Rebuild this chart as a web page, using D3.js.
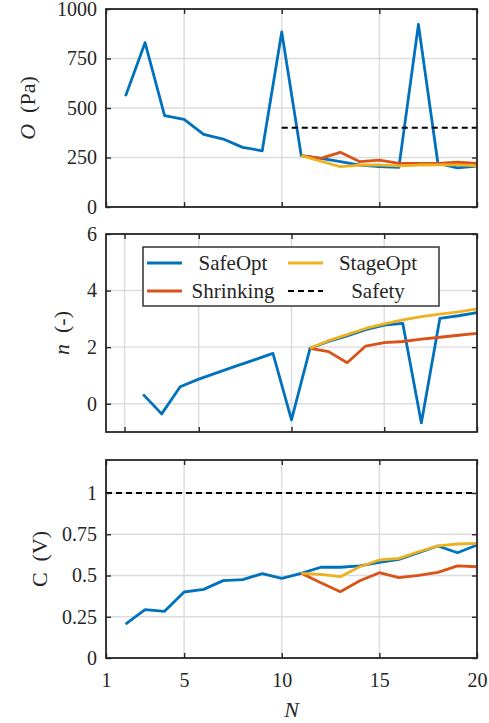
<!DOCTYPE html>
<html>
<head>
<meta charset="utf-8">
<script src="https://cdn.jsdelivr.net/npm/d3@7"></script>
<style>
  body { margin: 0; background: #fff; }
  svg text {
    font-family: "Liberation Serif", "Tinos", "Times New Roman", Times, "DejaVu Serif", "Noto Serif", "FreeSerif", "Nimbus Roman", "Noto Serif CJK SC", serif;
    fill: #262626;
  }
</style>
</head>
<body>
<svg id="fig" width="489" height="723"></svg>
<script>
// Iteration index for the full SafeOpt runs and for the stage-wise methods
const iterAll = [2, 3, 4, 5, 6, 7, 8, 9, 10, 11, 12, 13, 14, 15, 16, 17, 18, 19, 20];
const iterStage = [11, 12, 13, 14, 15, 16, 17, 18, 19, 20];

// Objective O (Pa)
const safeOptO   = [560, 830, 461, 443, 367, 343, 301, 284, 884, 259, 246, 229, 212, 204, 200, 922, 220, 198, 207];
const shrinkingO = [259, 246, 276, 229, 237, 220, 220, 220, 226, 220];
const stageOptO  = [259, 231, 204, 212, 212, 208, 212, 213, 213, 208];
const safetyOx   = [10, 20];
const safetyO    = [400, 400];

// n (-)
const safeOptN   = [0.33, -0.36, 0.6, 0.87, 1.1, 1.33, 1.55, 1.78, -0.57, 1.96, 2.2, 2.4, 2.62, 2.78, 2.84, -0.68, 3.02, 3.11, 3.22];
const shrinkingN = [1.96, 1.84, 1.45, 2.04, 2.16, 2.2, 2.28, 2.35, 2.42, 2.49];
const stageOptN  = [1.96, 2.23, 2.44, 2.66, 2.82, 2.96, 3.08, 3.17, 3.25, 3.35];

// Constraint C (V)
const safeOptC   = [0.206, 0.293, 0.283, 0.4, 0.416, 0.469, 0.475, 0.511, 0.483, 0.513, 0.55, 0.55, 0.558, 0.58, 0.598, 0.638, 0.679, 0.638, 0.685];
const shrinkingC = [0.513, 0.456, 0.402, 0.468, 0.517, 0.487, 0.501, 0.519, 0.558, 0.553];
const stageOptC  = [0.513, 0.507, 0.493, 0.553, 0.594, 0.604, 0.644, 0.679, 0.691, 0.695];
const safetyCx   = [1, 20];
const safetyC    = [1, 1];

// Ticks
const xTicks = [1, 5, 10, 15, 20];
const yTicksO = [0, 250, 500, 750, 1000];
const yTicksN = [0, 2, 4, 6];
const yTicksC = [0, 0.25, 0.5, 0.75, 1];
const yTickLabelsC = ["0", "0.25", "0.5", "0.75", "1"];

// Legend entries
const legendNames = ["SafeOpt", "StageOpt", "Shrinking", "Safety"];

const COLORS = { safe: "#0072BD", shrink: "#D95319", stage: "#EDB120", safety: "#000000" };
const AX = "#262626";
const FONT = 20;
const X0 = 106, X1 = 477;

const svg = d3.select("#fig");

function panel(cfg) {
  const g = svg.append("g");
  const x = d3.scaleLinear().domain(cfg.xDomain).range([X0, X1]);
  const y = d3.scaleLinear().domain(cfg.yDomain).range([cfg.bottom, cfg.top]);

  // grid
  g.append("g").selectAll("line").data(xTicks).join("line")
    .attr("x1", d => x(d)).attr("x2", d => x(d))
    .attr("y1", cfg.top).attr("y2", cfg.bottom)
    .attr("stroke", "#dcdcdc").attr("stroke-width", 1.4);
  g.append("g").selectAll("line").data(cfg.yTicks).join("line")
    .attr("x1", X0).attr("x2", X1)
    .attr("y1", d => y(d)).attr("y2", d => y(d))
    .attr("stroke", "#dcdcdc").attr("stroke-width", 1.4);

  // series
  const line = d3.line().x(d => x(d[0])).y(d => y(d[1]));
  cfg.series.forEach(s => {
    g.append("path")
      .datum(d3.zip(s.x, s.y))
      .attr("d", line)
      .attr("fill", "none")
      .attr("stroke", s.color)
      .attr("stroke-width", s.dash ? 2 : 2.8)
      .attr("stroke-linejoin", "round")
      .attr("stroke-dasharray", s.dash ? "6,4" : null);
  });

  // axes (ticks point inward, box on all sides)
  const styleAxis = a => {
    a.attr("color", AX).attr("font-size", FONT).attr("font-family", null);
    a.select(".domain").remove();
    a.selectAll(".tick line").attr("stroke-width", 1.4);
  };
  const left = g.append("g").attr("transform", `translate(${X0},0)`)
    .call(d3.axisLeft(y).tickValues(cfg.yTicks).tickFormat((d, i) => cfg.yLabels[i])
      .tickSizeInner(-5).tickSizeOuter(0).tickPadding(9));
  styleAxis(left);
  const right = g.append("g").attr("transform", `translate(${X1},0)`)
    .call(d3.axisRight(y).tickValues(cfg.yTicks).tickFormat("").tickSizeInner(-5).tickSizeOuter(0));
  styleAxis(right);
  const bottom = g.append("g").attr("transform", `translate(0,${cfg.bottom})`)
    .call(d3.axisBottom(x).tickValues(xTicks).tickFormat(cfg.xLabels ? d3.format("d") : "")
      .tickSizeInner(-5).tickSizeOuter(0).tickPadding(15));
  styleAxis(bottom);
  const top = g.append("g").attr("transform", `translate(0,${cfg.top})`)
    .call(d3.axisTop(x).tickValues(xTicks).tickFormat("").tickSizeInner(-5).tickSizeOuter(0));
  styleAxis(top);

  g.append("rect")
    .attr("x", X0).attr("y", cfg.top)
    .attr("width", X1 - X0).attr("height", cfg.bottom - cfg.top)
    .attr("fill", "none").attr("stroke", AX).attr("stroke-width", 1.8);

  // y label
  const lab = g.append("text")
    .attr("transform", `translate(${cfg.labelX},${(cfg.top + cfg.bottom) / 2}) rotate(-90)`)
    .attr("text-anchor", "middle")
    .attr("font-size", FONT + 2)
    .style("white-space", "pre");
  cfg.label(lab);
  return { g, x, y };
}

// O (Pa)
panel({
  top: 9, bottom: 207, xDomain: [1, 20], yDomain: [0, 1000],
  yTicks: yTicksO, yLabels: yTicksO.map(String), xLabels: false, labelX: 35,
  label: t => { t.append("tspan").attr("font-style", "italic").text("O"); t.append("tspan").text("  (Pa)"); },
  series: [
    { x: iterAll, y: safeOptO, color: COLORS.safe },
    { x: iterStage, y: shrinkingO, color: COLORS.shrink },
    { x: iterStage, y: stageOptO, color: COLORS.stage },
    { x: safetyOx, y: safetyO, color: COLORS.safety, dash: true }
  ]
});

// n (-)
panel({
  top: 234, bottom: 432, xDomain: [0, 20], yDomain: [-1, 6],
  yTicks: yTicksN, yLabels: yTicksN.map(String), xLabels: false, labelX: 69,
  label: t => { t.append("tspan").attr("font-style", "italic").text("n"); t.append("tspan").text("  (-)"); },
  series: [
    { x: iterAll, y: safeOptN, color: COLORS.safe },
    { x: iterStage, y: shrinkingN, color: COLORS.shrink },
    { x: iterStage, y: stageOptN, color: COLORS.stage }
  ]
});

// C (V)
panel({
  top: 460, bottom: 658, xDomain: [1, 20], yDomain: [0, 1.2],
  yTicks: yTicksC, yLabels: yTickLabelsC, xLabels: true, labelX: 47,
  label: t => { t.text("C  (V)"); },
  series: [
    { x: iterAll, y: safeOptC, color: COLORS.safe },
    { x: iterStage, y: shrinkingC, color: COLORS.shrink },
    { x: iterStage, y: stageOptC, color: COLORS.stage },
    { x: safetyCx, y: safetyC, color: COLORS.safety, dash: true }
  ]
});

// x label
svg.append("text")
  .attr("x", (X0 + X1) / 2).attr("y", 717)
  .attr("text-anchor", "middle").attr("font-size", FONT + 2)
  .attr("font-style", "italic").text("N");

// Legend (two columns)
const leg = svg.append("g");
leg.append("rect").attr("x", 143).attr("y", 247).attr("width", 296).attr("height", 59)
  .attr("fill", "#fff").attr("stroke", AX).attr("stroke-width", 1.4);
const legItems = [
  { name: legendNames[0], color: COLORS.safe, col: 0, row: 0 },
  { name: legendNames[1], color: COLORS.stage, col: 1, row: 0 },
  { name: legendNames[2], color: COLORS.shrink, col: 0, row: 1 },
  { name: legendNames[3], color: COLORS.safety, col: 1, row: 1, dash: true }
];
const colLine = [147, 288], colText = [233, 378], rowY = [263, 291];
legItems.forEach(it => {
  leg.append("line")
    .attr("x1", colLine[it.col]).attr("x2", colLine[it.col] + 35)
    .attr("y1", rowY[it.row]).attr("y2", rowY[it.row])
    .attr("stroke", it.color).attr("stroke-width", it.dash ? 2 : 2.8)
    .attr("stroke-dasharray", it.dash ? "6,4" : null);
  leg.append("text")
    .attr("x", colText[it.col]).attr("y", rowY[it.row] + 7)
    .attr("text-anchor", "middle").attr("font-size", FONT + 1)
    .text(it.name);
});
</script>
</body>
</html>
